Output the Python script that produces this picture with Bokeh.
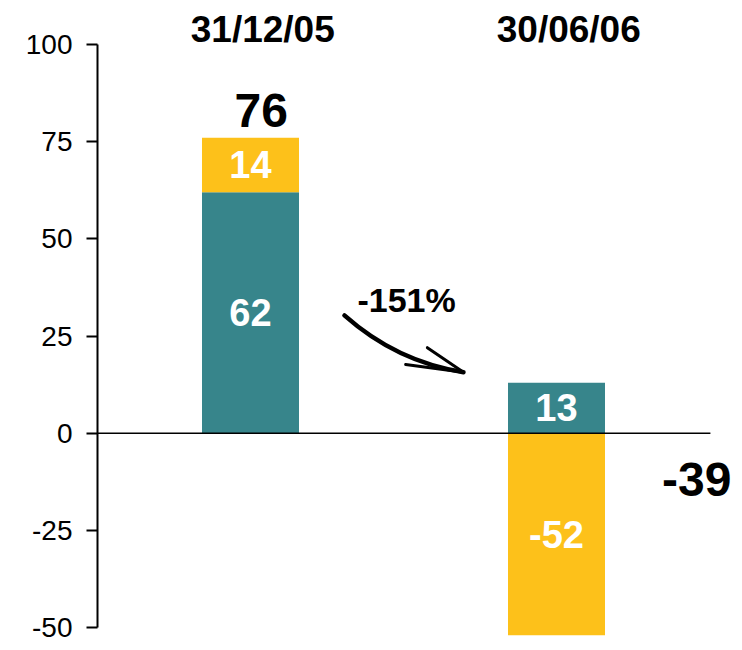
from bokeh.plotting import figure
from bokeh.models import Range1d, FixedTicker, ColumnDataSource
from bokeh.core.properties import value
from bokeh.embed import file_html
from bokeh.resources import INLINE

# ---- data ----
dates = ["31/12/05", "30/06/06"]
teal_vals = [62, 13]
yellow_vals = [14, -52]
totals = [76, -39]
change_label = "-151%"
y_ticks = [-50, -25, 0, 25, 50, 75, 100]

TEAL = "#37858b"
YELLOW = "#fdc11a"
FONT = "Liberation Sans"

xs = list(range(len(dates)))

# stack positives upward and negatives downward
pos = [0.0] * len(xs)
neg = [0.0] * len(xs)
series = []
for vals, col in ((teal_vals, TEAL), (yellow_vals, YELLOW)):
    bottoms, tops = [], []
    for i, v in enumerate(vals):
        if v >= 0:
            b, t = pos[i], pos[i] + v
            pos[i] = t
        else:
            b, t = neg[i] + v, neg[i]
            neg[i] = b
        bottoms.append(b)
        tops.append(t)
    series.append((vals, col, bottoms, tops))

p = figure(width=734, height=642, output_backend="svg", toolbar_location=None,
           x_range=Range1d(-0.5, -0.5 + 637 / 306), y_range=Range1d(-53.85, 111.32),
           x_axis_type=None, min_border_left=97, min_border_right=0,
           min_border_top=0, min_border_bottom=0)
p.outline_line_color = None
p.xgrid.visible = False
p.ygrid.visible = False
p.background_fill_color = "white"

bar_w = 0.317
for vals, col, bottoms, tops in series:
    src = ColumnDataSource(dict(x=xs, top=tops, bottom=bottoms,
                                lab=[str(v) for v in vals],
                                mid=[(a + b) / 2 for a, b in zip(bottoms, tops)]))
    p.vbar(x="x", top="top", bottom="bottom", width=bar_w, source=src,
           fill_color=col, line_color=None)
    p.text(x="x", y="mid", text="lab", source=src, text_color="white",
           text_font=value(FONT), text_font_style="bold",
           text_font_size=value("38px"), text_align="center",
           text_baseline="middle")

# zero line
p.segment(x0=[-0.5], y0=[0], x1=[1.503], y1=[0], line_color="black", line_width=1.5)

# headers
p.text(x=[x + 0.04 for x in xs], y=[103.9] * len(xs), text=dates,
       text_font=value(FONT), text_font_style="bold", text_font_size=value("37px"),
       text_align="center", text_baseline="middle", text_color="black")

# totals
tot_x = [xs[0] + 0.035, xs[1] + 0.458]
tot_y = [totals[0] + 7.1, -11.9]
p.text(x=tot_x, y=tot_y, text=[str(t) for t in totals],
       text_font=value(FONT), text_font_style="bold", text_font_size=value("48px"),
       text_align="center", text_baseline="middle", text_color="black")

# change label and arrow
p.text(x=[0.51], y=[34.3], text=[change_label], text_font=value(FONT),
       text_font_style="bold", text_font_size=value("34px"),
       text_align="center", text_baseline="middle", text_color="black")
p.quadratic(x0=[0.307], y0=[30.3], x1=[0.696], y1=[15.7], cx=[0.477], cy=[18.4],
            line_color="black", line_width=4.5, line_cap="round")
p.segment(x0=[0.578, 0.507], y0=[22.0, 17.7], x1=[0.696, 0.696], y1=[15.7, 15.7],
          line_color="black", line_width=3, line_cap="round")

ax = p.yaxis[0]
ax.ticker = FixedTicker(ticks=y_ticks)
ax.major_label_overrides = {t: str(t) for t in y_ticks}
ax.bounds = (-50, 100)
ax.axis_line_width = 2
ax.axis_line_color = "black"
ax.major_tick_line_width = 2
ax.major_tick_line_color = "black"
ax.major_tick_out = 11
ax.major_tick_in = 0
ax.minor_tick_line_color = None
ax.major_label_standoff = 14
ax.major_label_text_font = FONT
ax.major_label_text_font_size = "28px"
ax.major_label_text_color = "black"

open("out.html", "w").write(file_html(p, INLINE))
